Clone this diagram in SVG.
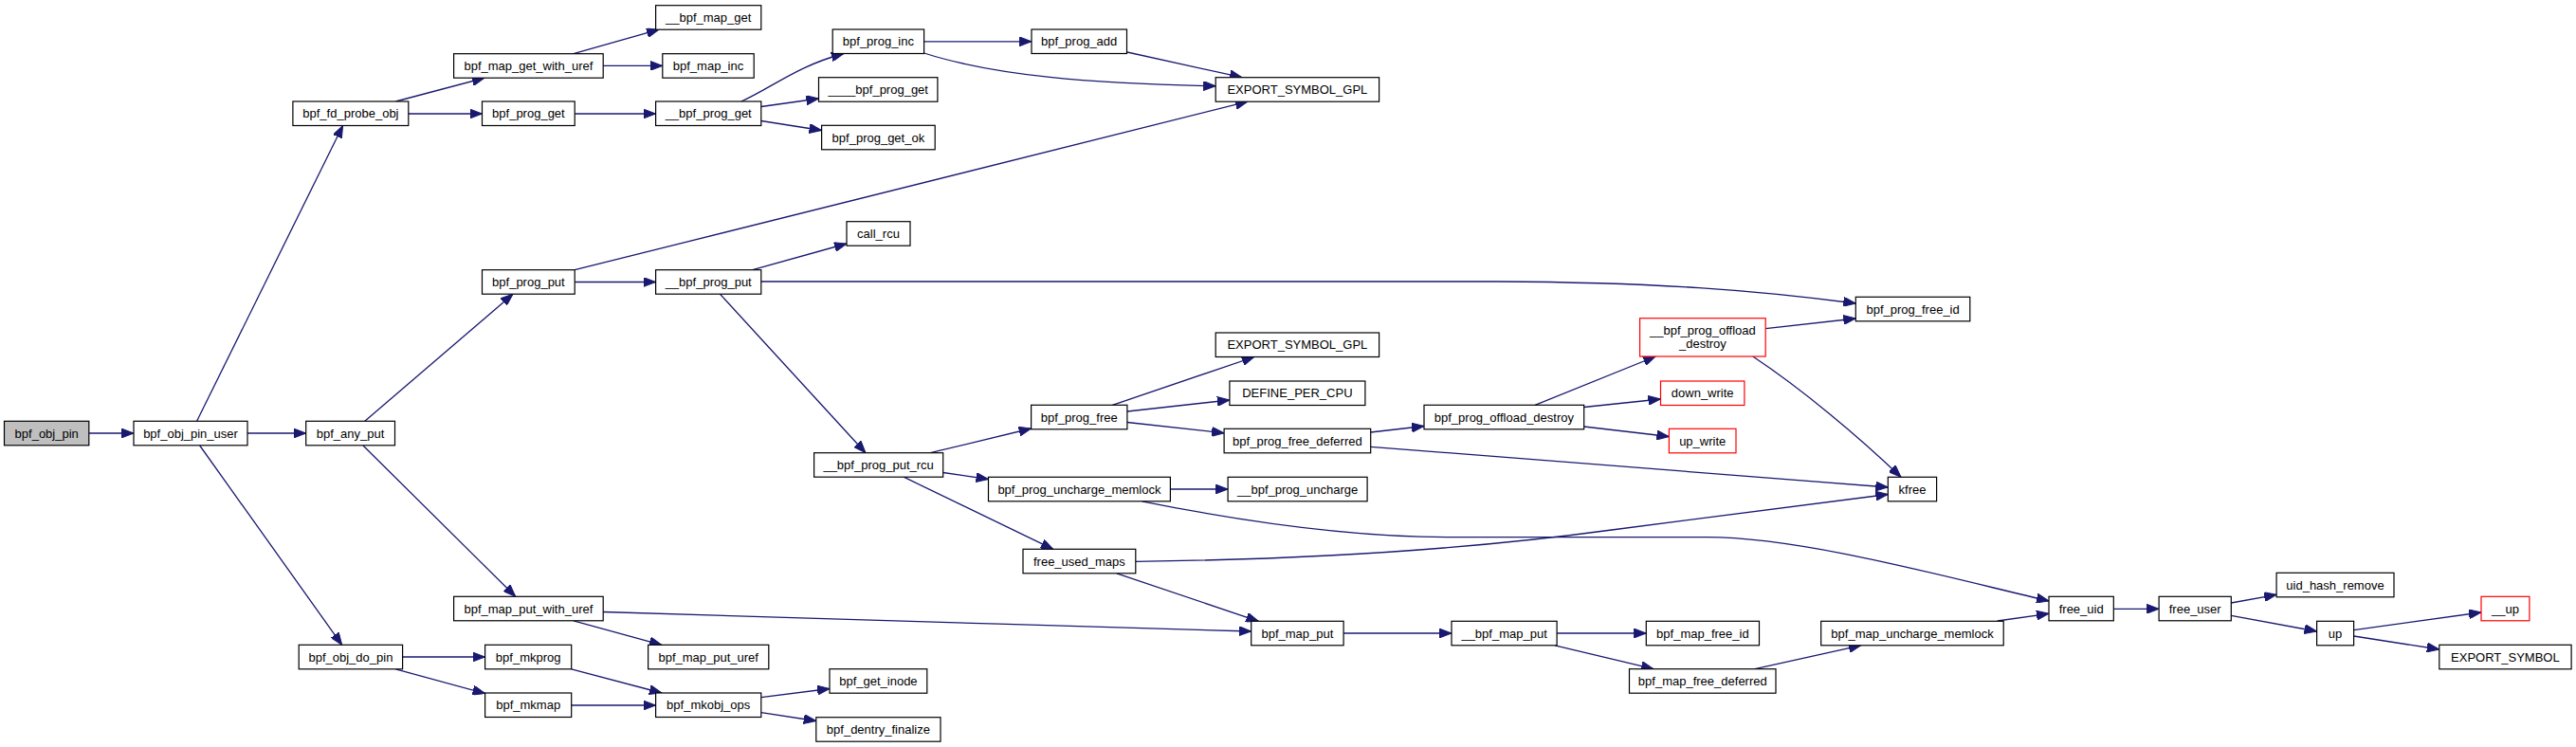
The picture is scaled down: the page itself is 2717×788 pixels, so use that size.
<svg xmlns="http://www.w3.org/2000/svg" width="2717" height="788" viewBox="0 0 2717 788">
<style>
.n rect{fill:#fff;stroke:#000;stroke-width:1.2}
.n.g rect{fill:#bfbfbf}
.n.r rect{stroke:#ff0000}
.n text{font-family:"Liberation Sans",Arial,sans-serif;font-size:13px;text-anchor:middle;fill:#000}
#edges path{fill:none;stroke:#191970;stroke-width:1.3;marker-end:url(#a)}
</style>
<defs>
<marker id="a" markerUnits="userSpaceOnUse" markerWidth="14" markerHeight="10" refX="13" refY="5" orient="auto" viewBox="0 0 14 10">
<path d="M0,0 L13,5 L0,10 z" fill="#191970" stroke="#191970" stroke-width="1"/>
</marker>
</defs>
<rect width="2717" height="788" fill="#fff"/>
<g id="edges">
<path d="M93.8,457 L141,457"/>
<path d="M207.6,444.3 L361.6,132.5"/>
<path d="M261,457 L322.7,457"/>
<path d="M210.7,470 L360.7,680.3"/>
<path d="M417.4,107 L511,82.2"/>
<path d="M430.8,120 L508.5,120"/>
<path d="M604.9,56.7 L695,31.2"/>
<path d="M636.2,69.4 L698.8,69.4"/>
<path d="M606.2,120 L691.6,120"/>
<path d="M781.8,107 C815,92 840,70 889.8,56.5"/>
<path d="M802.8,112.5 L863.5,104"/>
<path d="M802.8,127.5 L866.6,137.5"/>
<path d="M974.6,43.8 L1088,43.8"/>
<path d="M974.6,56 C1050,80 1150,88 1282.2,90.8"/>
<path d="M1188.9,55 L1310,81.7"/>
<path d="M606.2,284.7 L1316,107.2"/>
<path d="M606.2,297.5 L691.6,297.5"/>
<path d="M384.8,444.3 L541,310.2"/>
<path d="M383,470 L543.7,629.3"/>
<path d="M793.8,284.7 L893,257"/>
<path d="M802.8,297 L1580,297 C1750,298 1850,306 1957.3,320"/>
<path d="M759.5,310.2 L913,477.7"/>
<path d="M981.3,477.7 L1087.6,452"/>
<path d="M994.7,498.5 L1042.5,505.5"/>
<path d="M953.2,503.2 L1110.8,579.3"/>
<path d="M1173.3,427.3 L1322.9,376.5"/>
<path d="M1188.9,434 L1296.9,422"/>
<path d="M1188.9,445.5 L1291.1,456.8"/>
<path d="M1445.7,456 L1502,449.5"/>
<path d="M1445.7,471.3 L1991.3,514"/>
<path d="M1619,427.3 L1746.2,376"/>
<path d="M1670.7,429.5 L1751.5,421"/>
<path d="M1670.7,450 L1760.4,460.5"/>
<path d="M1862.2,346.7 L1957.3,336"/>
<path d="M1848.8,376 C1900,410 1960,460 2005,503.3"/>
<path d="M1234.4,516 L1295.1,516"/>
<path d="M1204.5,528.8 C1300,548 1420,566.7 1530,566.7 L1800,566.7 C1900,566.7 2050,608 2161,634"/>
<path d="M1197.8,592.3 C1400,590 1560,578 1700,559 L1991.3,521.5"/>
<path d="M1177.8,604.8 L1327.3,655.3"/>
<path d="M636.2,645.5 C800,650 1100,660 1319.7,666"/>
<path d="M604.9,654.8 L697.9,680.3"/>
<path d="M424.6,693 L511.6,693"/>
<path d="M417.4,705.8 L511.6,731.5"/>
<path d="M602.7,705.8 L697.9,731"/>
<path d="M602.7,744 L691.6,744"/>
<path d="M802.8,735.7 L875,726.5"/>
<path d="M802.8,751.7 L860.8,760.5"/>
<path d="M1417.1,668 L1531,668"/>
<path d="M1642.1,668 L1736.3,668"/>
<path d="M1640,680.8 L1744,705.7"/>
<path d="M1851,705.7 L1962.8,680.8"/>
<path d="M2106.7,655 L2161,647.3"/>
<path d="M2229.3,642.3 L2277.1,642.3"/>
<path d="M2353.3,636 L2401.1,627.3"/>
<path d="M2353.3,649.3 L2443.6,666"/>
<path d="M2482.6,664.7 L2617,646"/>
<path d="M2482.6,671 L2572.8,685"/>
</g>
<g id="bpf_obj_pin" class="n g"><rect x="4.5" y="444.3" width="89.3" height="25.5"/><text x="49.2" y="461.6">bpf_obj_pin</text></g>
<g id="bpf_obj_pin_user" class="n"><rect x="141" y="444.3" width="120" height="25.5"/><text x="201" y="461.6">bpf_obj_pin_user</text></g>
<g id="bpf_fd_probe_obj" class="n"><rect x="308.9" y="107" width="121.9" height="25.5"/><text x="369.9" y="124.3">bpf_fd_probe_obj</text></g>
<g id="bpf_any_put" class="n"><rect x="322.7" y="444.3" width="93.8" height="25.5"/><text x="369.6" y="461.6">bpf_any_put</text></g>
<g id="bpf_obj_do_pin" class="n"><rect x="315.2" y="680.3" width="109.4" height="25.5"/><text x="369.9" y="697.6">bpf_obj_do_pin</text></g>
<g id="bpf_map_get_with_uref" class="n"><rect x="478.6" y="56.7" width="157.6" height="25.5"/><text x="557.4" y="74">bpf_map_get_with_uref</text></g>
<g id="bpf_prog_get" class="n"><rect x="508.5" y="107" width="97.7" height="25.5"/><text x="557.4" y="124.3">bpf_prog_get</text></g>
<g id="bpf_prog_put" class="n"><rect x="508.5" y="284.7" width="97.7" height="25.5"/><text x="557.4" y="302">bpf_prog_put</text></g>
<g id="bpf_map_put_with_uref" class="n"><rect x="478.6" y="629.3" width="157.6" height="25.5"/><text x="557.4" y="646.6">bpf_map_put_with_uref</text></g>
<g id="bpf_mkprog" class="n"><rect x="511.6" y="680.3" width="91.1" height="25.5"/><text x="557.2" y="697.6">bpf_mkprog</text></g>
<g id="bpf_mkmap" class="n"><rect x="511.6" y="731" width="91.1" height="25.5"/><text x="557.2" y="748.3">bpf_mkmap</text></g>
<g id="__bpf_map_get" class="n"><rect x="691.6" y="5.7" width="111.2" height="25.5"/><text x="747.2" y="23">__bpf_map_get</text></g>
<g id="bpf_map_inc" class="n"><rect x="698.8" y="56.7" width="96.4" height="25.5"/><text x="747" y="74">bpf_map_inc</text></g>
<g id="__bpf_prog_get" class="n"><rect x="691.6" y="107" width="111.2" height="25.5"/><text x="747.2" y="124.3">__bpf_prog_get</text></g>
<g id="__bpf_prog_put" class="n"><rect x="691.6" y="284.7" width="111.2" height="25.5"/><text x="747.2" y="302">__bpf_prog_put</text></g>
<g id="bpf_map_put_uref" class="n"><rect x="683.6" y="680.3" width="127.2" height="25.5"/><text x="747.2" y="697.6">bpf_map_put_uref</text></g>
<g id="bpf_mkobj_ops" class="n"><rect x="691.6" y="731" width="111.2" height="25.5"/><text x="747.2" y="748.3">bpf_mkobj_ops</text></g>
<g id="bpf_prog_inc" class="n"><rect x="878.2" y="31" width="96.4" height="25.5"/><text x="926.4" y="48.3">bpf_prog_inc</text></g>
<g id="____bpf_prog_get" class="n"><rect x="863.5" y="81.7" width="125.4" height="25.5"/><text x="926.2" y="99">____bpf_prog_get</text></g>
<g id="bpf_prog_get_ok" class="n"><rect x="866.6" y="132.3" width="119.6" height="25.5"/><text x="926.4" y="149.6">bpf_prog_get_ok</text></g>
<g id="call_rcu" class="n"><rect x="893" y="233.7" width="67" height="25.5"/><text x="926.5" y="251">call_rcu</text></g>
<g id="__bpf_prog_put_rcu" class="n"><rect x="858.6" y="477.7" width="136.1" height="25.5"/><text x="926.6" y="495">__bpf_prog_put_rcu</text></g>
<g id="bpf_get_inode" class="n"><rect x="875" y="705.7" width="102.8" height="25.5"/><text x="926.4" y="723">bpf_get_inode</text></g>
<g id="bpf_dentry_finalize" class="n"><rect x="860.8" y="756.7" width="131.2" height="25.5"/><text x="926.4" y="774">bpf_dentry_finalize</text></g>
<g id="bpf_prog_add" class="n"><rect x="1088" y="31" width="100.5" height="25.5"/><text x="1138.2" y="48.3">bpf_prog_add</text></g>
<g id="bpf_prog_free" class="n"><rect x="1087.6" y="427.3" width="101.3" height="25.5"/><text x="1138.2" y="444.6">bpf_prog_free</text></g>
<g id="bpf_prog_uncharge_memlock" class="n"><rect x="1042.5" y="503.3" width="191.9" height="25.5"/><text x="1138.4" y="520.6">bpf_prog_uncharge_memlock</text></g>
<g id="free_used_maps" class="n"><rect x="1079" y="579.3" width="118.8" height="25.5"/><text x="1138.4" y="596.6">free_used_maps</text></g>
<g id="EXPORT_SYMBOL_GPL" class="n"><rect x="1282.2" y="81.7" width="172.4" height="25.5"/><text x="1368.4" y="99">EXPORT_SYMBOL_GPL</text></g>
<g id="EXPORT_SYMBOL_GPL_2" class="n"><rect x="1282.2" y="351" width="172.4" height="25.5"/><text x="1368.4" y="368.3">EXPORT_SYMBOL_GPL</text></g>
<g id="DEFINE_PER_CPU" class="n"><rect x="1296.9" y="402" width="143" height="25.5"/><text x="1368.4" y="419.3">DEFINE_PER_CPU</text></g>
<g id="bpf_prog_free_deferred" class="n"><rect x="1291.1" y="452.3" width="154.6" height="25.5"/><text x="1368.4" y="469.6">bpf_prog_free_deferred</text></g>
<g id="__bpf_prog_uncharge" class="n"><rect x="1295.1" y="503.3" width="147" height="25.5"/><text x="1368.6" y="520.6">__bpf_prog_uncharge</text></g>
<g id="bpf_map_put" class="n"><rect x="1319.7" y="655.3" width="97.4" height="25.5"/><text x="1368.4" y="672.6">bpf_map_put</text></g>
<g id="bpf_prog_offload_destroy" class="n"><rect x="1502" y="427.3" width="168.7" height="25.5"/><text x="1586.4" y="444.6">bpf_prog_offload_destroy</text></g>
<g id="__bpf_map_put" class="n"><rect x="1531" y="655.3" width="111.1" height="25.5"/><text x="1586.6" y="672.6">__bpf_map_put</text></g>
<g id="__bpf_prog_offload_destroy" class="n r"><rect x="1729.6" y="335.7" width="132.6" height="40.3"/><text x="1795.9" y="352.8">__bpf_prog_offload</text><text x="1795.9" y="367.3">_destroy</text></g>
<g id="down_write" class="n r"><rect x="1751.5" y="402" width="88.4" height="25.5"/><text x="1795.7" y="419.3">down_write</text></g>
<g id="up_write" class="n r"><rect x="1760.4" y="452.3" width="70.6" height="25.5"/><text x="1795.7" y="469.6">up_write</text></g>
<g id="bpf_map_free_id" class="n"><rect x="1736.3" y="655.3" width="119.2" height="25.5"/><text x="1795.9" y="672.6">bpf_map_free_id</text></g>
<g id="bpf_map_free_deferred" class="n"><rect x="1718.5" y="705.7" width="154.5" height="25.5"/><text x="1795.8" y="723">bpf_map_free_deferred</text></g>
<g id="bpf_map_uncharge_memlock" class="n"><rect x="1920.7" y="655.3" width="192.5" height="25.5"/><text x="2017" y="672.6">bpf_map_uncharge_memlock</text></g>
<g id="bpf_prog_free_id" class="n"><rect x="1957.3" y="313.3" width="120.5" height="25.5"/><text x="2017.6" y="330.6">bpf_prog_free_id</text></g>
<g id="kfree" class="n"><rect x="1991.3" y="503.3" width="51.3" height="25.5"/><text x="2017" y="520.6">kfree</text></g>
<g id="free_uid" class="n"><rect x="2161" y="629.3" width="68.3" height="25.5"/><text x="2195.2" y="646.6">free_uid</text></g>
<g id="free_user" class="n"><rect x="2277.1" y="629.3" width="76.2" height="25.5"/><text x="2315.2" y="646.6">free_user</text></g>
<g id="uid_hash_remove" class="n"><rect x="2401.1" y="604.3" width="123.9" height="25.5"/><text x="2463" y="621.6">uid_hash_remove</text></g>
<g id="up" class="n"><rect x="2443.6" y="655.3" width="39" height="25.5"/><text x="2463.1" y="672.6">up</text></g>
<g id="__up" class="n r"><rect x="2617" y="629.3" width="50.9" height="25.5"/><text x="2642.4" y="646.6">__up</text></g>
<g id="EXPORT_SYMBOL" class="n"><rect x="2572.8" y="680.3" width="139.3" height="25.5"/><text x="2642.4" y="697.6">EXPORT_SYMBOL</text></g>
</svg>
